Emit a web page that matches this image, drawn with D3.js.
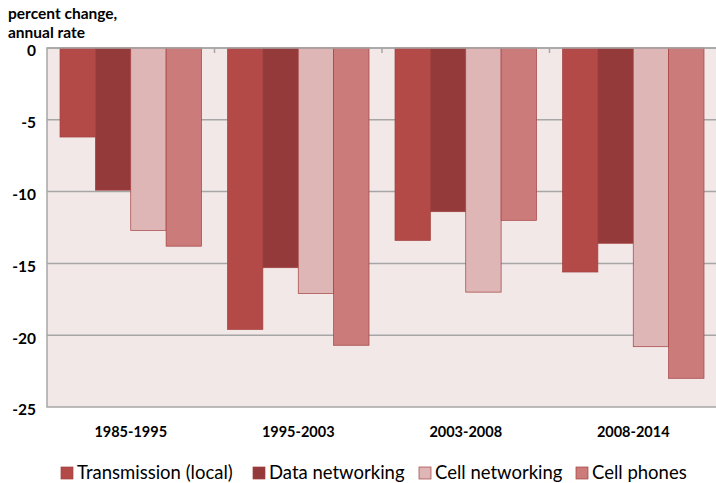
<!DOCTYPE html>
<html><head><meta charset="utf-8">
<script src="https://cdn.jsdelivr.net/npm/d3@7"></script>
<style>body{margin:0;background:#fff;} svg{display:block;}</style>
</head><body>
<svg id="c" width="716" height="483"></svg>
<script>
const categories = ["1985-1995","1995-2003","2003-2008","2008-2014"];
const seriesNames = ["Transmission (local)","Data networking","Cell networking","Cell phones"];
const transmission = [-6.2,-19.6,-13.4,-15.6];
const dataNetworking = [-9.9,-15.3,-11.4,-13.6];
const cellNetworking = [-12.7,-17.1,-17.0,-20.8];
const cellPhones = [-13.8,-20.7,-12.0,-23.0];
const yTicks = [0,-5,-10,-15,-20,-25];
const colors = ["#b34a48","#943a3a","#dfb6b6","#cb7b7a"];

const series = [transmission,dataNetworking,cellNetworking,cellPhones];
const svg = d3.select("#c");
const m = {l:47, t:48, r:717, b:407};
const font = "Lato, 'Open Sans', sans-serif";

const x0 = d3.scaleBand().domain(categories).range([m.l,m.r]).paddingInner(0).paddingOuter(0);
const x1 = d3.scaleBand().domain(d3.range(4)).range([13, x0.bandwidth()-13]);
const y = d3.scaleLinear().domain([0,-25]).range([m.t,m.b]);

svg.append("rect").attr("x",m.l).attr("y",m.t).attr("width",m.r-m.l).attr("height",m.b-m.t)
  .attr("fill","#f2e8e8").attr("stroke","#a6a6a6").attr("stroke-width",1.5);

svg.append("g").selectAll("line").data(yTicks.slice(1,-1)).join("line")
  .attr("x1",m.l).attr("x2",m.r).attr("y1",d=>y(d)).attr("y2",d=>y(d))
  .attr("stroke","#a6a6a6").attr("stroke-width",1.5);

const g = svg.append("g").selectAll("g").data(categories).join("g")
  .attr("transform",d=>`translate(${x0(d)},0)`);
g.selectAll("rect").data((c,i)=>series.map((s,j)=>({j,v:s[i]}))).join("rect")
  .attr("x",d=>x1(d.j)).attr("width",x1.bandwidth())
  .attr("y",y(0)).attr("height",d=>y(d.v)-y(0))
  .attr("fill",d=>colors[d.j]).attr("stroke","#a3403f").attr("stroke-width",0.7);

svg.append("line").attr("x1",m.l).attr("x2",m.r).attr("y1",y(0)).attr("y2",y(0))
  .attr("stroke","#a6a6a6").attr("stroke-width",1.5);
svg.append("g").selectAll("line").data(categories.slice(1)).join("line")
  .attr("x1",d=>x0(d)).attr("x2",d=>x0(d)).attr("y1",y(0)).attr("y2",y(0)+5)
  .attr("stroke","#a6a6a6").attr("stroke-width",1.5);

svg.append("g").selectAll("text").data(yTicks).join("text")
  .attr("x",36).attr("y",d=>y(d)+3).attr("dy","0.35em").attr("text-anchor","end")
  .attr("font-family",font).attr("font-weight","bold").attr("font-size",15.5).attr("fill","#000")
  .text(d=>d);

svg.append("g").selectAll("text").data(categories).join("text")
  .attr("x",d=>x0(d)+x0.bandwidth()/2).attr("y",432).attr("dy","0.35em").attr("text-anchor","middle")
  .attr("font-family",font).attr("font-weight","bold").attr("font-size",14.5).attr("fill","#000")
  .text(d=>d);

svg.append("text").attr("x",8).attr("y",19).attr("font-family",font).attr("font-weight","bold")
  .attr("font-size",15.5).text("percent change,");
svg.append("text").attr("x",8).attr("y",38).attr("font-family",font).attr("font-weight","bold")
  .attr("font-size",15.5).text("annual rate");

const legX = [61,253,419,576];
const lg = svg.append("g").selectAll("g").data(seriesNames).join("g")
  .attr("transform",(d,i)=>`translate(${legX[i]},472)`);
lg.append("rect").attr("x",0).attr("y",-5).attr("width",12).attr("height",12)
  .attr("fill",(d,i)=>colors[i]).attr("stroke","#a3403f").attr("stroke-width",0.7);
lg.append("text").attr("x",16).attr("y",1).attr("dy","0.35em")
  .attr("font-family",font).attr("font-size",18.5).attr("fill","#000").text(d=>d);
</script>
</body></html>
